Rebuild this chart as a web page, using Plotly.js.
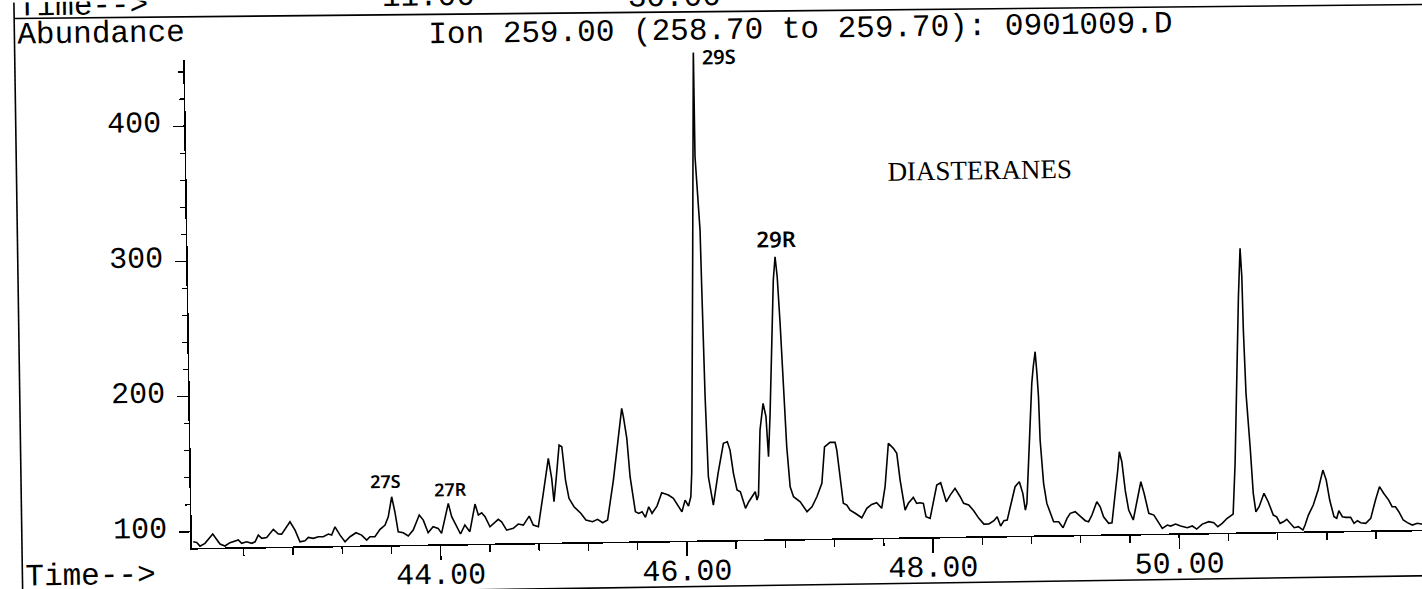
<!DOCTYPE html>
<html>
<head>
<meta charset="utf-8">
<script src="https://cdn.plot.ly/plotly-3.0.1.min.js"></script>
<style>
  html, body { margin: 0; padding: 0; background: #ffffff; overflow: hidden; width: 1422px; height: 589px; }
  #chart { position: absolute; left: 0; top: 0; width: 1450px; height: 620px;
           transform-origin: 192px 548px; transform: rotate(-0.85deg); }
</style>
</head>
<body>
<div id="chart"></div>
<script>
// Retention time (min) and abundance
const retentionTime = [
  41.991, 42.019, 42.045, 42.086, 42.150, 42.208, 42.248, 42.289, 42.357, 42.384,
  42.425, 42.466, 42.493, 42.520, 42.548, 42.588, 42.643, 42.683, 42.710, 42.779,
  42.819, 42.858, 42.899, 42.926, 42.967, 43.008, 43.048, 43.089, 43.116, 43.144,
  43.184, 43.224, 43.265, 43.314, 43.359, 43.400, 43.427, 43.467, 43.510, 43.551,
  43.578, 43.608, 43.632, 43.657, 43.698, 43.738, 43.779, 43.830, 43.862, 43.900,
  43.941, 43.982, 44.009, 44.037, 44.067, 44.093, 44.132, 44.163, 44.199, 44.239,
  44.284, 44.310, 44.337, 44.364, 44.403, 44.471, 44.498, 44.538, 44.592, 44.633,
  44.674, 44.723, 44.755, 44.796, 44.840, 44.885, 44.910, 44.926, 44.948, 44.974,
  44.996, 45.022, 45.048, 45.088, 45.142, 45.183, 45.237, 45.278, 45.319, 45.359,
  45.411, 45.457, 45.487, 45.500, 45.525, 45.547, 45.586, 45.613, 45.640, 45.667,
  45.695, 45.721, 45.762, 45.802, 45.856, 45.896, 45.937, 45.964, 45.991, 46.018,
  46.038, 46.048, 46.081, 46.112, 46.113, 46.145, 46.152, 46.166, 46.183, 46.220,
  46.262, 46.309, 46.341, 46.362, 46.387, 46.414, 46.441, 46.481, 46.508, 46.535,
  46.562, 46.575, 46.588, 46.608, 46.636, 46.658, 46.674, 46.692, 46.713, 46.734,
  46.751, 46.766, 46.784, 46.802, 46.823, 46.846, 46.872, 46.926, 46.980, 47.021,
  47.062, 47.104, 47.130, 47.175, 47.216, 47.229, 47.253, 47.276, 47.304, 47.330,
  47.371, 47.424, 47.466, 47.506, 47.547, 47.587, 47.617, 47.649, 47.689, 47.716,
  47.740, 47.777, 47.804, 47.845, 47.872, 47.899, 47.926, 47.946, 47.979, 48.006,
  48.037, 48.069, 48.090, 48.112, 48.145, 48.185, 48.226, 48.253, 48.294, 48.334,
  48.375, 48.415, 48.456, 48.497, 48.524, 48.551, 48.578, 48.605, 48.632, 48.673,
  48.708, 48.735, 48.754, 48.767, 48.794, 48.821, 48.835, 48.852, 48.864, 48.874,
  48.882, 48.905, 48.929, 48.956, 48.982, 49.023, 49.058, 49.091, 49.118, 49.158,
  49.199, 49.239, 49.266, 49.294, 49.335, 49.362, 49.388, 49.429, 49.456, 49.484,
  49.509, 49.524, 49.543, 49.568, 49.593, 49.629, 49.660, 49.695, 49.720, 49.756,
  49.797, 49.824, 49.864, 49.905, 49.932, 49.972, 50.013, 50.067, 50.108, 50.143,
  50.189, 50.243, 50.283, 50.315, 50.351, 50.392, 50.441, 50.463, 50.487, 50.510,
  50.529, 50.540, 50.546, 50.560, 50.587, 50.607, 50.626, 50.653, 50.694, 50.727,
  50.767, 50.794, 50.821, 50.848, 50.876, 50.903, 50.935, 50.970, 51.006, 51.024,
  51.052, 51.093, 51.134, 51.175, 51.201, 51.227, 51.260, 51.282, 51.300, 51.328,
  51.355, 51.395, 51.422, 51.450, 51.476, 51.517, 51.558, 51.599, 51.633, 51.666,
  51.706, 51.733, 51.760, 51.787, 51.822, 51.855, 51.895, 51.936, 51.979
];
const abundance = [
  92.6, 92.1, 89.3, 91.3, 98.1, 90.6, 89.1, 91.5, 93.4, 90.9,
  92.0, 90.8, 91.9, 96.8, 94.4, 95.0, 100.9, 97.4, 97.3, 106.3,
  100.1, 91.4, 92.1, 94.6, 93.8, 94.9, 94.9, 96.8, 96.0, 102.1,
  95.9, 90.9, 94.6, 97.5, 95.7, 91.9, 94.4, 94.3, 99.7, 102.8,
  108.9, 123.7, 112.6, 97.7, 96.9, 94.5, 98.8, 109.9, 106.1, 96.7,
  101.1, 99.8, 96.1, 105.9, 118.2, 108.3, 100.8, 95.4, 102.0, 97.0,
  117.4, 109.2, 110.9, 107.9, 100.4, 105.8, 104.0, 97.8, 99.0, 102.1,
  101.3, 107.9, 101.2, 99.9, 124.6, 150.4, 135.6, 118.2, 136.7, 160.1,
  158.8, 134.1, 120.6, 114.3, 109.4, 104.4, 103.0, 104.7, 102.2, 104.1,
  133.6, 168.1, 186.6, 180.3, 164.3, 135.9, 109.9, 108.7, 109.9, 105.7,
  113.5, 108.6, 113.9, 123.7, 121.9, 119.4, 113.2, 109.4, 118.0, 113.6,
  120.4, 137.7, 293.0, 450.7, 371.8, 317.5, 273.2, 194.2, 135.0, 114.0,
  137.4, 159.6, 160.7, 154.5, 137.3, 124.9, 123.6, 111.3, 116.1, 119.8,
  123.4, 117.3, 120.9, 169.0, 188.7, 178.8, 149.2, 181.2, 230.5, 279.8,
  297.0, 282.2, 247.7, 198.3, 156.3, 126.7, 119.3, 115.5, 108.1, 111.7,
  119.0, 128.9, 155.9, 159.1, 159.1, 153.4, 133.6, 113.9, 112.6, 108.8,
  106.4, 103.0, 109.9, 112.8, 114.0, 109.8, 125.7, 157.8, 154.0, 150.3,
  130.5, 108.2, 113.2, 117.5, 113.1, 113.5, 113.0, 103.1, 101.8, 112.9,
  126.4, 128.0, 121.4, 113.9, 118.8, 123.7, 117.5, 112.6, 111.3, 107.0,
  101.3, 97.0, 97.0, 99.4, 102.3, 95.4, 99.3, 99.7, 109.5, 124.3,
  127.9, 119.3, 106.9, 111.9, 156.2, 200.5, 212.8, 223.9, 207.9, 190.6,
  158.5, 126.5, 111.6, 104.2, 98.0, 97.9, 93.4, 100.3, 104.0, 105.1,
  101.4, 98.4, 97.6, 102.5, 112.3, 108.5, 101.1, 96.2, 96.6, 115.8,
  135.5, 149.0, 141.6, 120.0, 105.8, 98.4, 110.7, 126.6, 118.0, 103.1,
  101.8, 98.1, 91.9, 94.3, 93.5, 94.9, 93.4, 92.1, 93.3, 91.0,
  94.6, 96.3, 95.5, 92.5, 94.9, 98.6, 101.7, 139.2, 205.7, 262.3,
  298.1, 277.1, 237.6, 190.8, 151.3, 116.8, 103.1, 106.8, 116.7, 110.4,
  100.5, 99.2, 94.3, 95.4, 97.2, 94.2, 90.9, 91.6, 89.1, 92.8,
  100.1, 107.5, 118.5, 133.2, 125.8, 111.0, 98.6, 97.4, 103.0, 98.5,
  98.0, 98.0, 93.5, 95.4, 93.9, 93.4, 97.0, 110.5, 120.3, 115.4,
  110.3, 105.4, 105.3, 101.6, 95.4, 93.4, 91.6, 92.8, 92.0
];

// Axis ticks
const xTickVals = [44, 46, 48, 50];
const xTickText = ["44.00", "46.00", "48.00", "50.00"];
const xMinorVals = [42.4, 42.8, 43.2, 43.6, 44.4, 44.8, 45.2, 45.6, 46.4, 46.8, 47.2, 47.6,
                    48.4, 48.8, 49.2, 49.6, 50.4, 50.8, 51.2, 51.6];
const yTickVals = [100, 200, 300, 400];
const yTickText = ["100", "200", "300", "400"];
const yMinorVals = [120, 140, 160, 180, 220, 240, 260, 280, 320, 340, 360, 380, 420, 440];

// Peak labels (handwritten on the original)
const peakLabels = ["27S", "27R", "29R"];
const peakLabelTime = [43.556, 44.091, 46.762];
const peakLabelAbund = [135.4, 128.7, 310.8];

const mono = "Liberation Mono, Courier New, monospace";
const hand = "Noto Sans, DejaVu Sans, sans-serif";

const trace = {
  x: retentionTime, y: abundance, type: "scatter", mode: "lines",
  line: { color: "#000000", width: 1.6 }, hoverinfo: "skip", cliponaxis: false
};

const annotations = [
  { text: "Abundance", xref: "paper", yref: "paper", x: -0.1362, y: 1.0566,
    xanchor: "left", yanchor: "middle", showarrow: false, font: { family: mono, size: 31, color: "#000" } },
  { text: "Time-->", xref: "paper", yref: "paper", x: -0.1365, y: -0.0533,
    xanchor: "left", yanchor: "middle", showarrow: false, font: { family: mono, size: 31, color: "#000" } },
  { text: "Time-->", xref: "paper", yref: "paper", x: -0.1357, y: 1.1141,
    xanchor: "left", yanchor: "middle", showarrow: false, font: { family: mono, size: 31, color: "#000" } },
  { text: "11.00", xref: "paper", yref: "paper", x: 0.1971, y: 1.122,
    xanchor: "center", yanchor: "middle", showarrow: false, font: { family: mono, size: 31, color: "#000" } },
  { text: "30.00", xref: "paper", yref: "paper", x: 0.3966, y: 1.114,
    xanchor: "center", yanchor: "middle", showarrow: false, font: { family: mono, size: 31, color: "#000" } },
  { text: "DIASTERANES", xref: "x", yref: "y", x: 48.423, y: 358.9,
    showarrow: false, font: { family: "Liberation Serif, Times New Roman, serif", size: 27, color: "#000" } },
  { text: "29S", xref: "x", yref: "paper", x: 46.321, y: 1.023,
    showarrow: false, font: { family: hand, size: 20, color: "#000", weight: 600 } }
];
peakLabels.forEach(function (lab, i) {
  annotations.push({ text: lab, xref: "x", yref: "y", x: peakLabelTime[i], y: peakLabelAbund[i],
    showarrow: false, font: { family: hand, size: i === 2 ? 22 : 18, color: "#000", weight: 600 } });
});

const shapes = [
  { type: "line", xref: "paper", yref: "paper", x0: -0.1373, x1: -0.1373, y0: -0.2, y1: 1.2,
    line: { color: "#000", width: 1.6 } },
  { type: "line", xref: "paper", yref: "paper", x0: -0.1373, x1: 1.03, y0: 1.0902, y1: 1.0758,
    line: { color: "#000", width: 1.6 } },
  { type: "line", xref: "paper", yref: "paper", x0: -0.1373, x1: 1.03, y0: -0.0943, y1: -0.0943,
    line: { color: "#000", width: 1.6 } }
];

const layout = {
  width: 1450, height: 620,
  margin: { l: 192, r: 20, t: 60, b: 72, pad: 0 },
  paper_bgcolor: "#ffffff", plot_bgcolor: "#ffffff",
  showlegend: false,
  title: { text: "Ion 259.00 (258.70 to 259.70): 0901009.D", xref: "paper", yref: "container",
           x: 0.4976, y: 0.9419, xanchor: "center", yanchor: "middle",
           font: { family: mono, size: 31, color: "#000" } },
  xaxis: {
    range: [41.98, 52.037], showgrid: false, zeroline: false,
    showline: true, linecolor: "#000", linewidth: 1.6,
    tickmode: "array", tickvals: xTickVals, ticktext: xTickText,
    ticks: "outside", ticklen: 14, tickwidth: 1.4, tickcolor: "#000",
    ticklabelstandoff: -12,
    tickfont: { family: mono, size: 30, color: "#000" },
    minor: { tickmode: "array", tickvals: xMinorVals, ticks: "outside", ticklen: 7,
             tickwidth: 1.4, tickcolor: "#000", showgrid: false }
  },
  yaxis: {
    range: [88, 448.9], showgrid: false, zeroline: false,
    showline: true, linecolor: "#000", linewidth: 1.6,
    tickmode: "array", tickvals: yTickVals, ticktext: yTickText,
    ticks: "outside", ticklen: 11, tickwidth: 1.4, tickcolor: "#000",
    ticklabelstandoff: 6, ticklabelshift: -5,
    tickfont: { family: mono, size: 30, color: "#000" },
    minor: { tickmode: "array", tickvals: yMinorVals, ticks: "outside", ticklen: 5,
             tickwidth: 1.4, tickcolor: "#000", showgrid: false }
  },
  annotations: annotations,
  shapes: shapes
};

Plotly.newPlot("chart", [trace], layout, { displayModeBar: false, staticPlot: true });
</script>
</body>
</html>
